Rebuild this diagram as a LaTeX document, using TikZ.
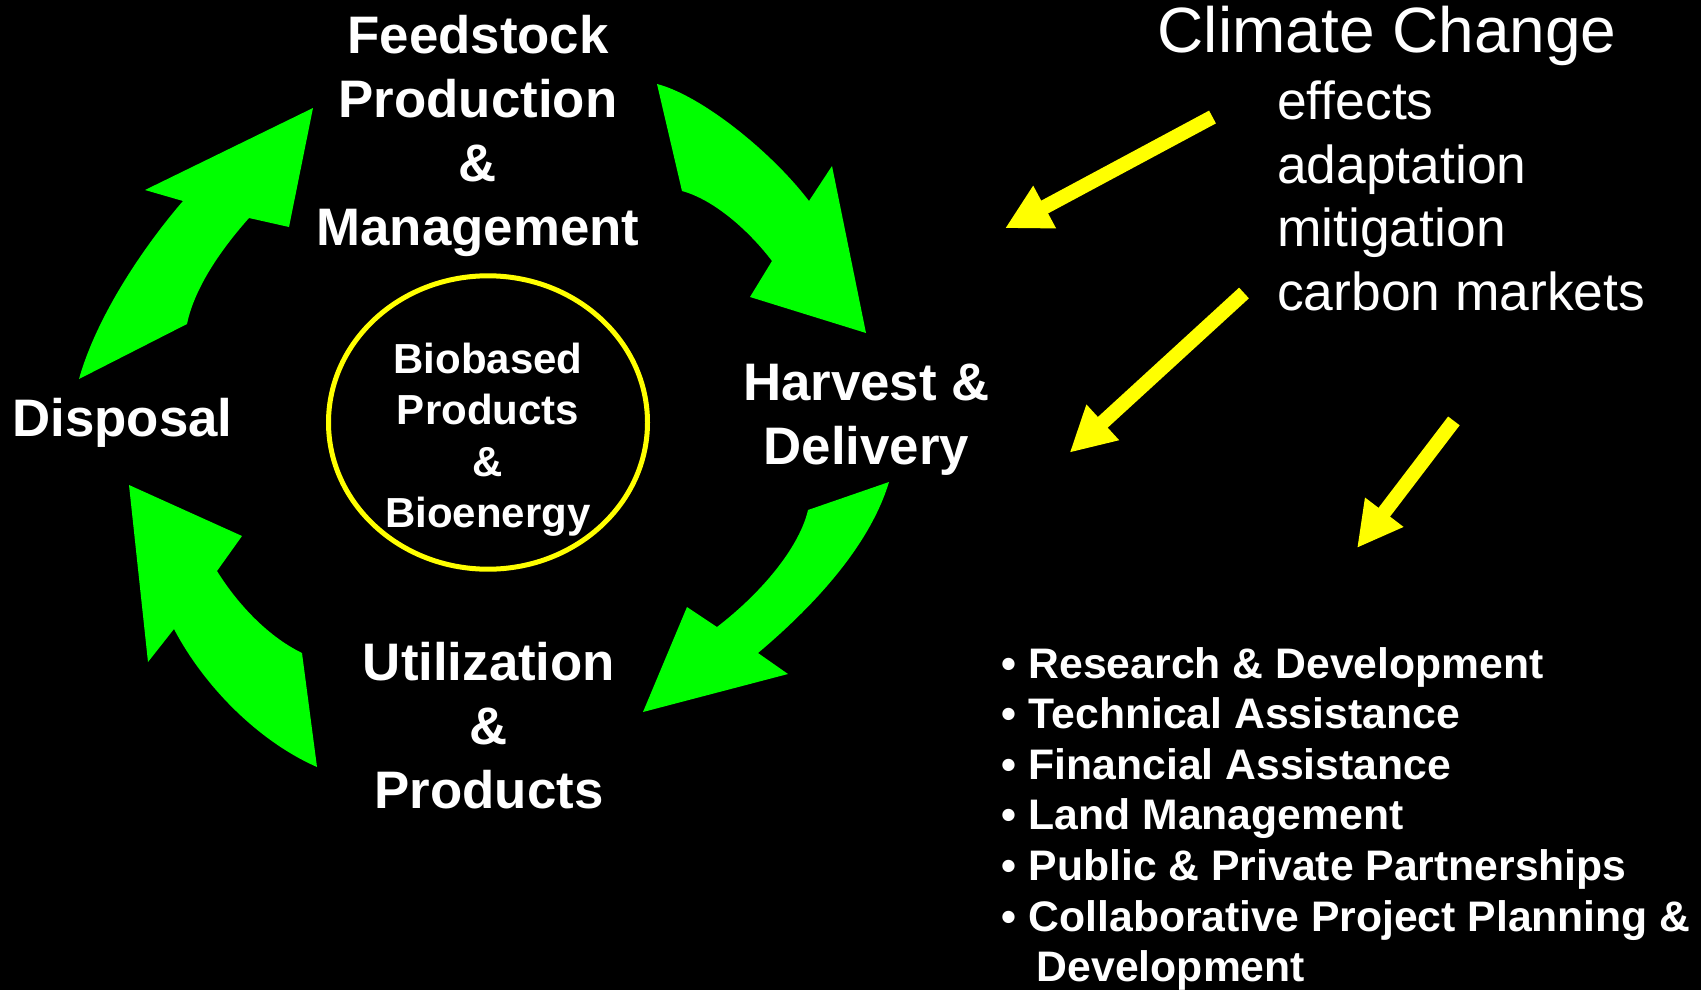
\documentclass[tikz,border=0pt]{standalone}
\usepackage{fontspec}
\setmainfont{Liberation Sans}
\usetikzlibrary{arrows.meta, shapes.geometric}
\definecolor{cyclegreen}{RGB}{0,255,0}
\definecolor{climateyellow}{RGB}{255,255,0}
\tikzset{
    cyclearrow/.style={fill=cyclegreen, draw=none},
    stagelabel/.style={text=white, font=\fontsize{52.8}{64}\selectfont\bfseries, align=center, inner sep=0pt},
    ringlabel/.style={text=white, font=\fontsize{42}{51.5}\selectfont\bfseries, align=center, inner sep=0pt},
    listlabel/.style={text=white, font=\fontsize{42.7}{50.6}\selectfont\bfseries, align=left, inner sep=0pt},
    climatelabel/.style={text=white, align=left, inner sep=0pt, anchor=base west},
    climatearrow/.style={-{Triangle[length=45pt, width=45pt]}, line width=14.5pt, climateyellow},
}

\begin{document}
\begin{tikzpicture}[x=1pt, y=-1pt]
\useasboundingbox (0,0) rectangle (1701,990);
\fill[black] (0,0) rectangle (1701,990);

% cycle arrows
\path[cyclearrow] (79,379) .. controls (97,315) and (145,245) .. (183,201) -- (145,190) -- (313,108) -- (289,227) -- (249,218) .. controls (225,245) and (195,285) .. (187,324) -- cycle;
\path[cyclearrow] (657,84) .. controls (700,95) and (770,150) .. (809,201) -- (832,166) -- (866,333) -- (750,297) -- (772,261) .. controls (750,232) and (715,200) .. (682,191) -- cycle;
\path[cyclearrow] (889,482) .. controls (870,545) and (815,605) .. (758,653) -- (788,674) -- (643,712) -- (687,607) -- (717,627) .. controls (765,590) and (800,545) .. (808,510) -- cycle;
\path[cyclearrow] (317,767) .. controls (260,742) and (205,688) .. (174,629) -- (148,662) -- (129,485) -- (242,536) -- (217,571) .. controls (235,600) and (265,635) .. (302,653) -- cycle;

% multi-line nodes sit on the baseline of their last line
\node[stagelabel, anchor=base] (feedstock) at (478,245) {Feedstock\\Production\\\&\\Management};
\node[stagelabel, anchor=base] (harvest) at (866.5,464) {Harvest \&\\Delivery};
\node[stagelabel, anchor=base] (utilization) at (489,808) {Utilization\\\&\\Products};
\node[stagelabel, anchor=base] (disposal) at (122.5,436) {Disposal};

\node[draw=climateyellow, line width=5pt, ellipse, minimum width=319pt, minimum height=293.4pt, inner sep=0pt] (ring) at (488,422.5) {};
\node[ringlabel, anchor=base] (biobased) at (488,527.7) {Biobased\\Products\\\&\\Bioenergy};

% climate change
\node[climatelabel, font=\fontsize{64}{70}\selectfont] (climate) at (1157.5,53) {Climate Change};
\node[climatelabel, font=\fontsize{53.4}{63.7}\selectfont] (climate-list) at (1277,310.6) {effects\\adaptation\\mitigation\\carbon markets};

\coordinate (effects-from) at (1212.5,117);
\coordinate (effects-to) at (1005,228.3);
\coordinate (markets-from) at (1244,293);
\coordinate (markets-to) at (1069.6,452.7);
\coordinate (actions-from) at (1453.9,420.9);
\coordinate (actions-to) at (1357,548);
\draw[climatearrow] (effects-from) -- (effects-to);
\draw[climatearrow] (markets-from) -- (markets-to);
\draw[climatearrow] (actions-from) -- (actions-to);

\node[listlabel, anchor=base west] (actions) at (1001.7,981.7) {• Research \& Development\\• Technical Assistance\\• Financial Assistance\\• Land Management\\• Public \& Private Partnerships\\• Collaborative Project Planning \&\\\hspace*{35pt}Development};

\end{tikzpicture}
\end{document}
